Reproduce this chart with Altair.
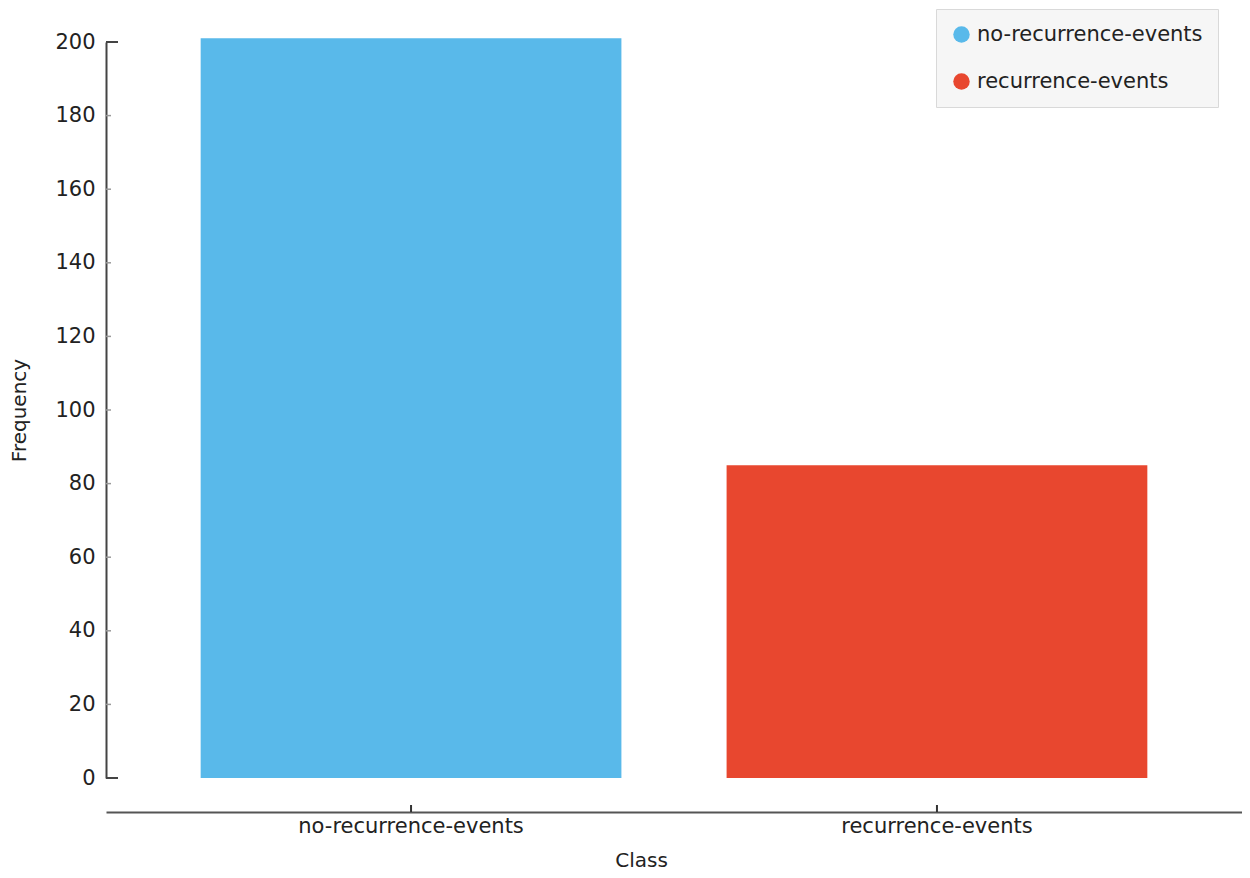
import altair as alt
import pandas as pd

classes = ["no-recurrence-events", "recurrence-events"]
counts = [201, 85]
colors = ["#59b9ea", "#e8472f"]
major_ticks = [0, 200]
minor_ticks = [20, 40, 60, 80, 100, 120, 140, 160, 180]
y_labels = [0, 20, 40, 60, 80, 100, 120, 140, 160, 180, 200]

df = pd.DataFrame({"Class": classes, "Frequency": counts})
df_major = pd.DataFrame({"Frequency": major_ticks})
df_minor = pd.DataFrame({"Frequency": minor_ticks})
df_xt = pd.DataFrame({"Class": classes})

W, H = 1136, 736
X_OFF = 34

x_scale = alt.Scale(domain=classes, paddingInner=0.2, paddingOuter=0.18)
y_scale = alt.Scale(domain=[0, 200], nice=False, zero=True)

x_axis = alt.Axis(title="Class", labelAngle=0, ticks=False, domainColor="#555555",
                  domainWidth=2, offset=X_OFF, labelPadding=3, labelFontSize=21,
                  labelLimit=500, labelColor="#222222", titleFontSize=20,
                  titleFontWeight="normal", titleColor="#222222", titlePadding=14,
                  titleX=535, grid=False)
y_axis = alt.Axis(title="Frequency", values=y_labels, ticks=False, grid=False,
                  domainColor="#444444", domainWidth=2, labelPadding=11,
                  labelFontSize=21, labelColor="#222222", titleFontSize=20,
                  titleFontWeight="normal", titleColor="#222222", titlePadding=25)

bars = alt.Chart(df).mark_bar().encode(
    x=alt.X("Class:N", scale=x_scale, sort=classes, axis=x_axis),
    y=alt.Y("Frequency:Q", scale=y_scale, axis=y_axis),
    color=alt.Color("Class:N", scale=alt.Scale(domain=classes, range=colors),
                    legend=alt.Legend(title=None, orient="none", legendX=830, legendY=-33,
                                      fillColor="#f6f6f6", strokeColor="#d9d9d9", padding=15,
                                      symbolType="circle", symbolSize=270, symbolStrokeWidth=0,
                                      labelFontSize=21, labelColor="#222222", rowPadding=25,
                                      labelOffset=5, labelLimit=0)),
)

major = alt.Chart(df_major).mark_rule(color="#444444", strokeWidth=2).encode(
    y=alt.Y("Frequency:Q", scale=y_scale, axis=y_axis),
    x=alt.value(0), x2=alt.value(12),
)
minor = alt.Chart(df_minor).mark_rule(color="#999999", strokeWidth=1.5).encode(
    y=alt.Y("Frequency:Q", scale=y_scale, axis=y_axis),
    x=alt.value(0), x2=alt.value(5),
)
xticks = alt.Chart(df_xt).mark_rule(color="#333333", strokeWidth=2).encode(
    x=alt.X("Class:N", scale=x_scale, sort=classes, axis=x_axis),
    y=alt.value(H + X_OFF - 7), y2=alt.value(H + X_OFF),
)

chart = alt.layer(bars, major, minor, xticks).properties(
    width=W, height=H,
    autosize=alt.AutoSizeParams(type="none"),
    padding={"left": 98, "top": 34, "right": 0, "bottom": 92},
).configure(font="DejaVu Sans").configure_view(stroke=None)

chart.save("out.html", embed_options={"renderer": "svg", "actions": False})
